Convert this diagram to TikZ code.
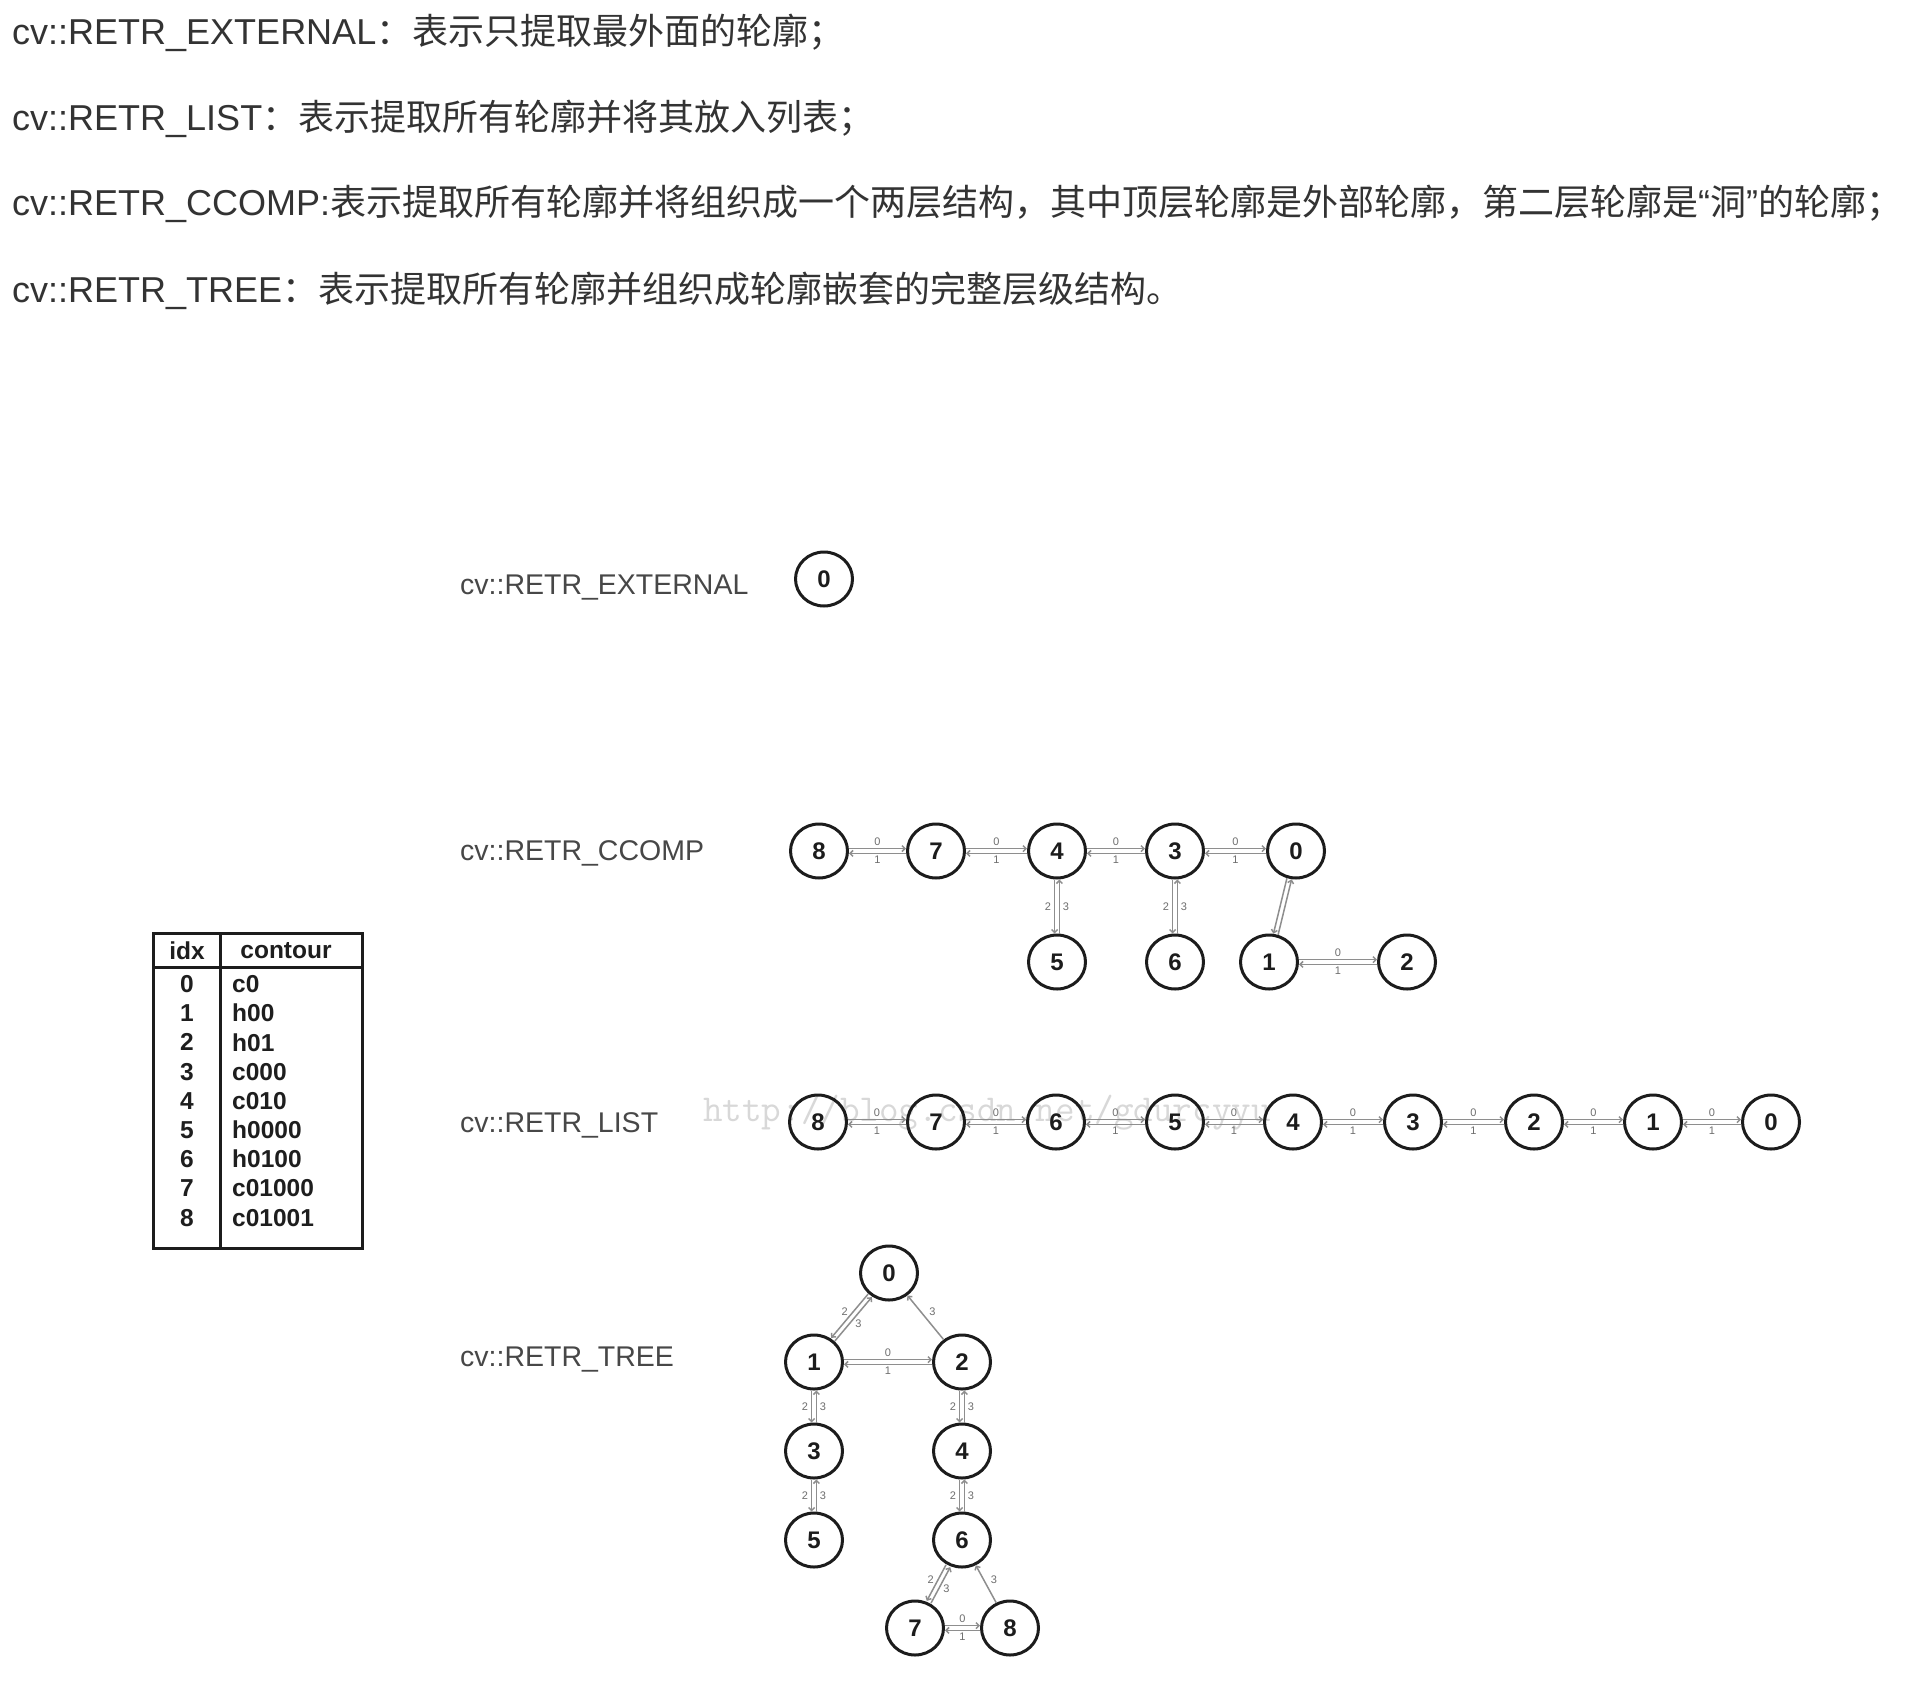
\documentclass[tikz,border=0pt]{standalone}
\usepackage{fontspec}
\setmainfont{Liberation Sans}
\newfontfamily\cjk{Noto Sans CJK SC}
\usetikzlibrary{calc,arrows.meta,shapes.geometric}

\definecolor{bodytext}{HTML}{333333}
\definecolor{captext}{HTML}{474747}
\definecolor{nodeline}{HTML}{1C1C1C}
\definecolor{linkgray}{HTML}{8E8E8E}
\definecolor{labgray}{HTML}{6E6E6E}
\definecolor{wmgray}{HTML}{D8D8D8}
\definecolor{tabtext}{HTML}{1E1E1E}

% a pair of opposite arrows between two nodes
% #1 from, #2 to, #3 side of the forward arrow, #4 other side, #5 trim at both ends
\newcommand\dpair[5]{%
  \draw[link, shorten <=#5pt, shorten >=#5pt] ($(#1)!2.4pt!#3:(#2)$) -- ($(#2)!2.4pt!#4:(#1)$);
  \draw[link, shorten <=#5pt, shorten >=#5pt] ($(#2)!2.4pt!#3:(#1)$) -- ($(#1)!2.4pt!#4:(#2)$);
}
% the same pair with its two small labels
\newcommand\dlink[7]{%
  \dpair{#1}{#2}{#3}{#4}{#5}%
  \node[lab] (#1#2f) at ($(#1)!0.5!(#2)!9pt!#3:(#2)$) {#6};
  \node[lab] (#1#2b) at ($(#1)!0.5!(#2)!9pt!#4:(#2)$) {#7};
}

\begin{document}
\begin{tikzpicture}[x=1pt,y=-1pt,
  head/.style={anchor=base west, inner sep=0pt, text=bodytext, font=\fontsize{36}{40}\selectfont},
  modelabel/.style={anchor=base west, inner sep=0pt, text=captext, font=\fontsize{28.5}{30}\selectfont},
  nd/.style={ellipse, draw=nodeline, line width=3pt, minimum width=57pt, minimum height=54pt,
             inner sep=0pt, text=nodeline, font=\fontsize{24}{24}\bfseries\selectfont},
  link/.style={draw=linkgray, line width=1.5pt, -{Straight Barb[length=3pt,width=6pt]}},
  lab/.style={inner sep=0pt, text=labgray, font=\fontsize{11}{11}\selectfont},
  tabline/.style={draw=nodeline, line width=3pt},
  cell/.style={inner sep=0pt, text=tabtext, font=\fontsize{24.5}{26}\bfseries\selectfont},
  wm/.style={anchor=base west, inner sep=0pt, text=wmgray, font=\ttfamily\fontsize{38}{40}\selectfont}
]
\fill[white] (0,0) rectangle (1932,1704);
\useasboundingbox (0,0) rectangle (1932,1704);

% ---- description lines ----
\node[head] (t1) at (12,45) {cv::RETR\_EXTERNAL{\cjk ：表示只提取最外面的轮廓；}};
\node[head] (t2) at (12,131) {cv::RETR\_LIST{\cjk ：表示提取所有轮廓并将其放入列表；}};
\node[head] (t3) at (12,216) {cv::RETR\_CCOMP:{\cjk 表示提取所有轮廓并将组织成一个两层结构，其中顶层轮廓是外部轮廓，第二层轮廓是}“{\cjk 洞}”{\cjk 的轮廓；}};
\node[head] (t4) at (12,302) {cv::RETR\_TREE{\cjk ：表示提取所有轮廓并组织成轮廓嵌套的完整层级结构。}};

% ---- watermark ----
\node[wm] (mark) at (703,1121) {http://blog.csdn.net/gdurcyyu};

% ---- index table ----
\draw[tabline] (153,933) rectangle (362,1248);
\draw[tabline] (153,967) -- (362,967);
\draw[tabline] (220,933) -- (220,1248);
\node[cell] (hidx) at (187,951) {idx};
\node[cell] (hcon) at (286,951) {contour};
\foreach \i/\c in {0/c0,1/h00,2/h01,3/c000,4/c010,5/h0000,6/h0100,7/c01000,8/c01001}{
  \node[cell] (ix\i) at (187,{984+29.2*\i}) {\i};
  \node[cell, anchor=west] (cn\i) at (232,{984+29.2*\i}) {\c};
}

% ---- mode labels ----
\node[modelabel] (capext) at (460,594) {cv::RETR\_EXTERNAL};
\node[modelabel] (capcc) at (460,860) {cv::RETR\_CCOMP};
\node[modelabel] (caplist) at (460,1132) {cv::RETR\_LIST};
\node[modelabel] (captree) at (460,1366) {cv::RETR\_TREE};

% ---- RETR_EXTERNAL ----
\node[nd] (e0) at (824,579) {0};

% ---- RETR_CCOMP ----
\node[nd] (c8) at (819,851) {8};
\node[nd] (c7) at (936,851) {7};
\node[nd] (c4) at (1057,851) {4};
\node[nd] (c3) at (1175,851) {3};
\node[nd] (c0) at (1296,851) {0};
\node[nd] (c5) at (1057,962) {5};
\node[nd] (c6) at (1175,962) {6};
\node[nd] (c1) at (1269,962) {1};
\node[nd] (c2) at (1407,962) {2};
\dlink{c8}{c7}{90}{-90}{30}{0}{1}
\dlink{c7}{c4}{90}{-90}{30}{0}{1}
\dlink{c4}{c3}{90}{-90}{30}{0}{1}
\dlink{c3}{c0}{90}{-90}{30}{0}{1}
\dlink{c1}{c2}{90}{-90}{30}{0}{1}
\dlink{c4}{c5}{-90}{90}{28.5}{2}{3}
\dlink{c3}{c6}{-90}{90}{28.5}{2}{3}
\dpair{c0}{c1}{-90}{90}{28.5}

% ---- RETR_LIST ----
\foreach \n/\x in {8/818,7/936,6/1056,5/1175,4/1293,3/1413,2/1534,1/1653,0/1771}{
  \node[nd] (l\n) at (\x,1122) {\n};
}
\foreach \a/\b in {8/7,7/6,6/5,5/4,4/3,3/2,2/1,1/0}{
  \dlink{l\a}{l\b}{90}{-90}{30}{0}{1}
}

% ---- RETR_TREE ----
\node[nd] (r0) at (889,1273) {0};
\node[nd] (r1) at (814,1362) {1};
\node[nd] (r2) at (962,1362) {2};
\node[nd] (r3) at (814,1451) {3};
\node[nd] (r4) at (962,1451) {4};
\node[nd] (r5) at (814,1540) {5};
\node[nd] (r6) at (962,1540) {6};
\node[nd] (r7) at (915,1628) {7};
\node[nd] (r8) at (1010,1628) {8};
\dlink{r0}{r1}{-90}{90}{29.5}{2}{3}
\dlink{r1}{r2}{90}{-90}{30}{0}{1}
\dlink{r1}{r3}{-90}{90}{28.5}{2}{3}
\dlink{r3}{r5}{-90}{90}{28.5}{2}{3}
\dlink{r2}{r4}{-90}{90}{28.5}{2}{3}
\dlink{r4}{r6}{-90}{90}{28.5}{2}{3}
\dlink{r6}{r7}{-90}{90}{29.5}{2}{3}
\dlink{r7}{r8}{90}{-90}{30}{0}{1}
\draw[link] (r2) -- (r0);
\node[lab] (r20) at ($(r2)!0.5!(r0)!9pt!-90:(r0)$) {3};
\draw[link] (r8) -- (r6);
\node[lab] (r86) at ($(r8)!0.5!(r6)!9pt!-90:(r6)$) {3};
\end{tikzpicture}
\end{document}
